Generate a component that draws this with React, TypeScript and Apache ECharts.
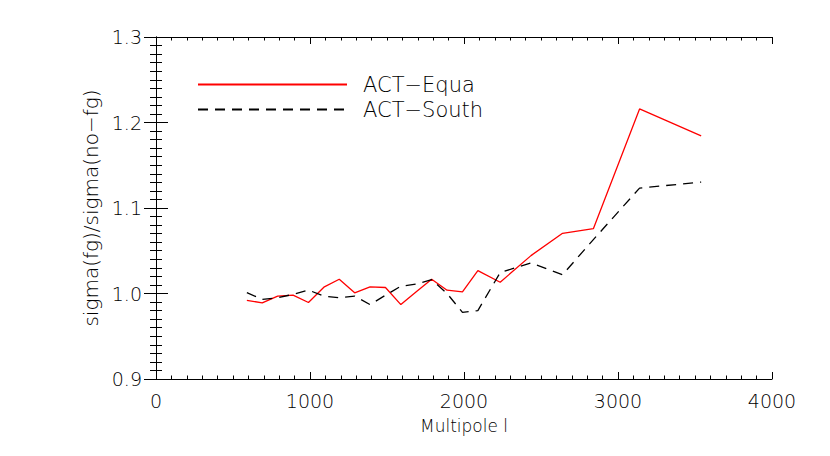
import React, { useEffect, useRef } from "react";
import * as echarts from "echarts";

const multipoles = [590, 690, 790, 890, 990, 1090, 1190, 1290, 1390, 1490, 1590, 1690, 1790, 1890, 1990, 2090, 2235, 2435, 2640, 2840, 3140, 3540];
const equaValues = [0.992, 0.989, 0.997, 0.998, 0.9895, 1.0074, 1.0167, 1.0008, 1.0078, 1.007, 0.987, 1.002, 1.0167, 1.0039, 1.002, 1.0268, 1.0132, 1.0443, 1.0704, 1.0758, 1.2159, 1.1844];
const southValues = [1.001, 0.993, 0.995, 0.999, 1.004, 0.997, 0.995, 0.997, 0.987, 0.998, 1.0085, 1.011, 1.0163, 1.0, 0.978, 0.98, 1.0245, 1.0358, 1.022, 1.063, 1.1233, 1.1303];
const seriesNames = ["ACT\u2212Equa", "ACT\u2212South"];
const xTitle = "Multipole l";
const yTitle = "sigma(fg)/sigma(no\u2212fg)";
const xRange = [0, 4000];
const yRange = [0.9, 1.3];

const FONT = "DejaVu Sans";

export default function App() {
  const ref = useRef<HTMLDivElement>(null);
  useEffect(() => {
    if (!ref.current) return;
    const chart = echarts.init(ref.current, null, { renderer: "svg" });
    const axisLine = { show: true, lineStyle: { color: "#000", width: 1 } };
    const xCommon = {
      type: "value",
      min: xRange[0],
      max: xRange[1],
      interval: 1000,
      axisLine,
      axisTick: { show: true, inside: true, length: 7, lineStyle: { color: "#000", width: 1 } },
      minorTick: { show: true, splitNumber: 10, length: 3.5, lineStyle: { color: "#000", width: 1 } },
      splitLine: { show: false },
      minorSplitLine: { show: false },
    };
    const yCommon = {
      type: "value",
      min: yRange[0],
      max: yRange[1],
      interval: 0.1,
      axisLine,
      axisTick: { show: true, inside: true, length: 12, lineStyle: { color: "#000", width: 1 } },
      minorTick: { show: true, splitNumber: 10, length: 6, lineStyle: { color: "#000", width: 1 } },
      splitLine: { show: false },
      minorSplitLine: { show: false },
    };
    const toPairs = (vals: number[]) => multipoles.map((x, i) => [x, vals[i]]);
    chart.setOption({
      animation: false,
      backgroundColor: "#fff",
      textStyle: { fontFamily: FONT },
      grid: { left: 156, top: 37, right: 58, bottom: 77, containLabel: false },
      legend: {
        show: true,
        orient: "vertical",
        left: 197,
        top: 74,
        padding: 0,
        itemWidth: 149,
        itemHeight: 10,
        itemGap: 4,
        data: seriesNames,
        itemStyle: { opacity: 0 },
        textStyle: { fontFamily: FONT, fontSize: 21, fontWeight: 300, color: "#000", padding: [0, 0, 0, 11] },
      },
      xAxis: [
        {
          ...xCommon,
          position: "bottom",
          name: xTitle,
          nameLocation: "middle",
          nameGap: 38,
          nameTextStyle: { fontFamily: FONT, fontSize: 17, fontWeight: 300, color: "#000" },
          axisLabel: {
            show: true,
            margin: 12,
            fontFamily: FONT,
            fontSize: 19,
            fontWeight: 300,
            color: "#000",
            formatter: (v: number) => String(v),
          },
        },
        {
          ...xCommon,
          position: "top",
          axisLabel: { show: false },
        },
      ],
      yAxis: [
        {
          ...yCommon,
          position: "left",
          name: yTitle,
          nameLocation: "middle",
          nameGap: 42,
          nameTextStyle: { fontFamily: FONT, fontSize: 20, fontWeight: 300, color: "#000" },
          axisLabel: {
            show: true,
            margin: 14,
            fontFamily: FONT,
            fontSize: 19,
            fontWeight: 300,
            color: "#000",
            formatter: (v: number) => v.toFixed(1),
          },
        },
        {
          ...yCommon,
          position: "right",
          axisLabel: { show: false },
        },
      ],
      series: [
        {
          name: seriesNames[0],
          type: "line",
          xAxisIndex: 0,
          yAxisIndex: 0,
          data: toPairs(equaValues),
          symbol: "none",
          lineStyle: { color: "#ff0000", width: 1.3, type: "solid" },
          itemStyle: { color: "#ff0000" },
        },
        {
          name: seriesNames[1],
          type: "line",
          xAxisIndex: 0,
          yAxisIndex: 0,
          data: toPairs(southValues),
          symbol: "none",
          lineStyle: { color: "#000", width: 1.3, type: [10, 7] },
          itemStyle: { color: "#000" },
        },
      ],
    });
    return () => chart.dispose();
  }, []);
  return <div ref={ref} style={{ width: 830, height: 456, position: "absolute", left: 0, top: 0 }} />;
}
